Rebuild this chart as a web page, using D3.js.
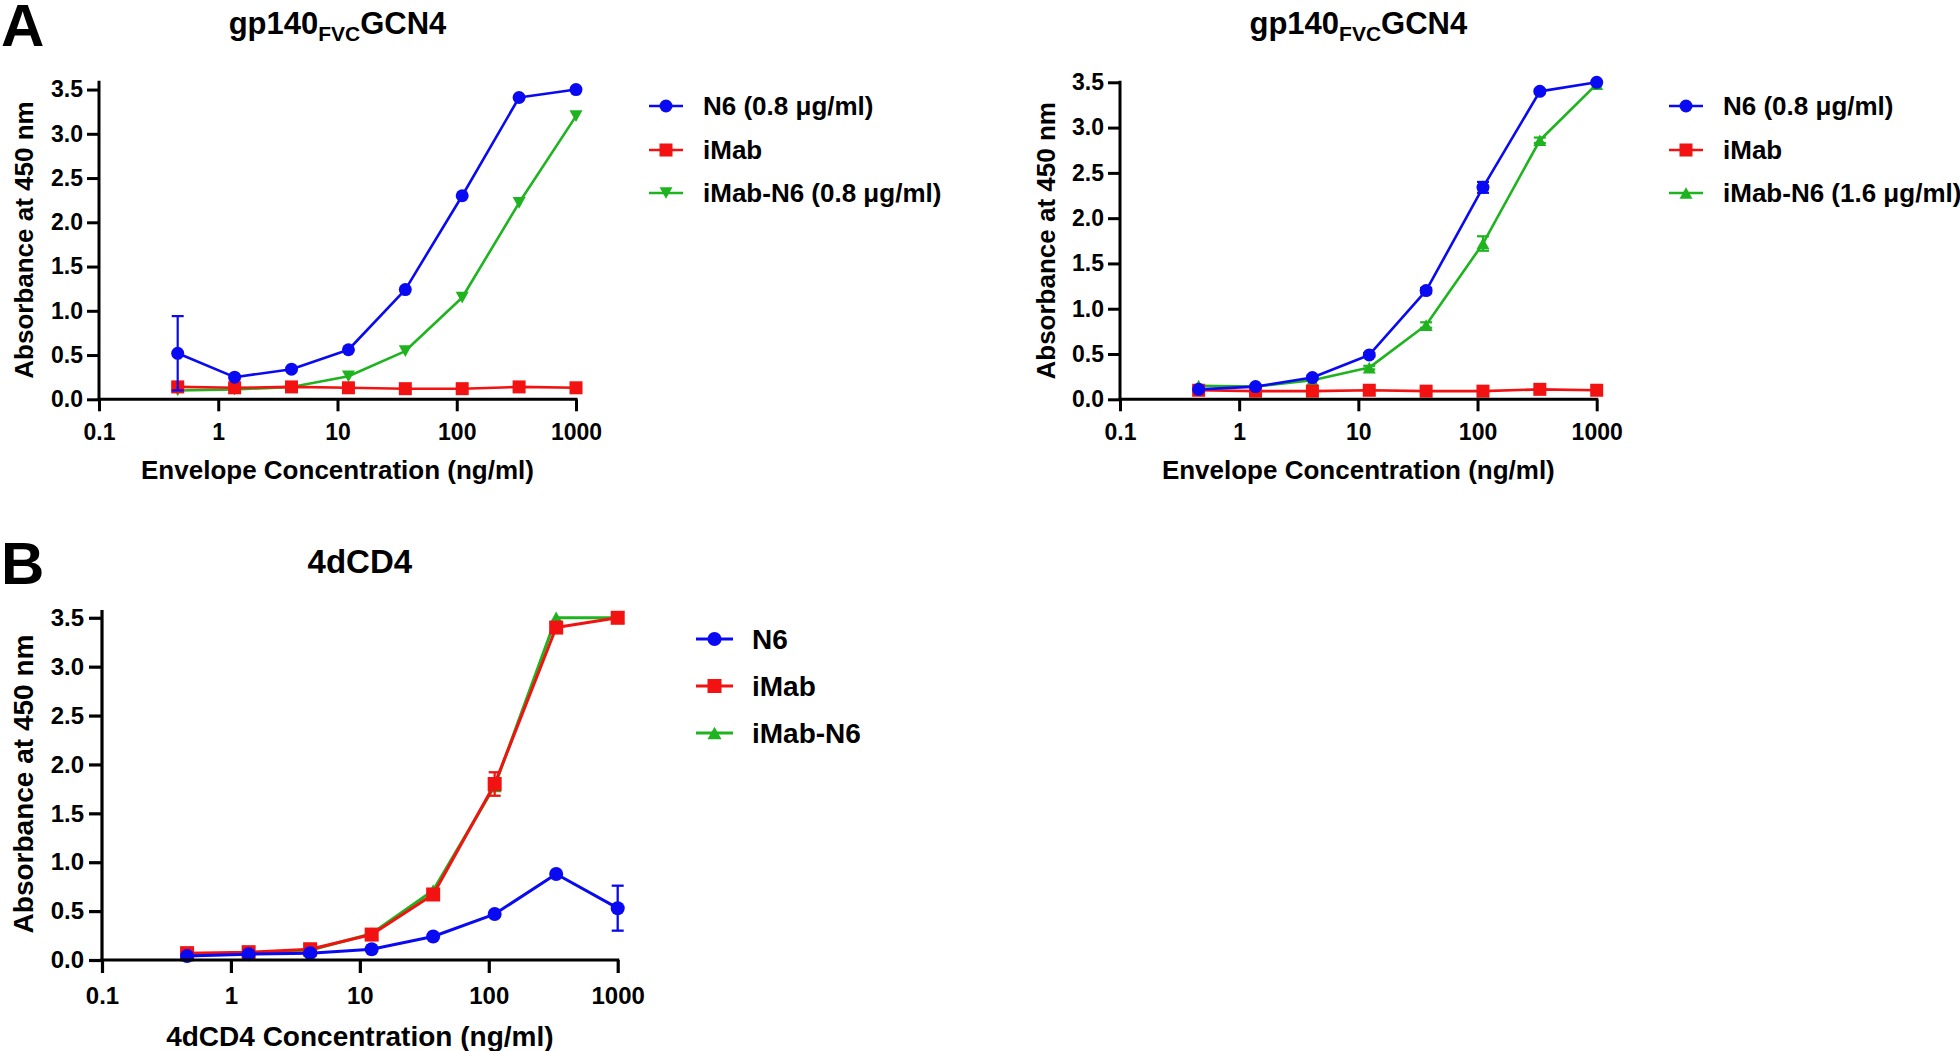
<!DOCTYPE html>
<html>
<head>
<meta charset="utf-8">
<script src="https://cdn.jsdelivr.net/npm/d3@7"></script>
<style>
  html, body { margin: 0; padding: 0; background: #ffffff; }
  svg { display: block; }
  text { font-family: "Liberation Sans", Arial, sans-serif; font-weight: bold; fill: #000; }
</style>
</head>
<body>
<svg id="chart" width="1960" height="1051"></svg>
<script>
// ---------------- DATA ----------------
const concentrations = [0.457, 1.372, 4.115, 12.35, 37.04, 111.1, 333.3, 1000];
const xTickValues = [0.1, 1, 10, 100, 1000];
const xTickLabels = ["0.1", "1", "10", "100", "1000"];
const yTickValues = [0, 0.5, 1.0, 1.5, 2.0, 2.5, 3.0, 3.5];
const yTickLabels = ["0.0", "0.5", "1.0", "1.5", "2.0", "2.5", "3.0", "3.5"];

// Panel A (left): gp140FVC GCN4, iMab-N6 0.8 ug/ml
const a1N6 = [0.52, 0.25, 0.34, 0.56, 1.24, 2.30, 3.41, 3.50];
const a1N6Err = [0.42, 0, 0, 0, 0, 0, 0, 0];
const a1iMab = [0.14, 0.13, 0.14, 0.13, 0.12, 0.12, 0.14, 0.13];
const a1iMabErr = [0, 0, 0, 0, 0, 0, 0, 0];
const a1iMabN6 = [0.10, 0.11, 0.14, 0.26, 0.545, 1.15, 2.22, 3.20];
const a1iMabN6Err = [0, 0, 0, 0, 0, 0, 0, 0];
const a1Labels = ["N6 (0.8 \u03bcg/ml)", "iMab", "iMab-N6 (0.8 \u03bcg/ml)"];

// Panel A (right): gp140FVC GCN4, iMab-N6 1.6 ug/ml
const a2N6 = [0.11, 0.14, 0.24, 0.49, 1.20, 2.34, 3.40, 3.50];
const a2N6Err = [0, 0, 0.02, 0.02, 0.03, 0.06, 0.02, 0];
const a2iMab = [0.10, 0.09, 0.09, 0.10, 0.09, 0.09, 0.11, 0.10];
const a2iMabErr = [0, 0, 0, 0, 0, 0, 0, 0];
const a2iMabN6 = [0.15, 0.14, 0.21, 0.35, 0.82, 1.72, 2.86, 3.48];
const a2iMabN6Err = [0, 0, 0, 0.02, 0.03, 0.08, 0.03, 0];
const a2Labels = ["N6 (0.8 \u03bcg/ml)", "iMab", "iMab-N6 (1.6 \u03bcg/ml)"];

// Panel B: 4dCD4
const bN6 = [0.04, 0.06, 0.07, 0.11, 0.24, 0.47, 0.88, 0.53];
const bN6Err = [0, 0, 0, 0, 0, 0, 0, 0.23];
const biMab = [0.07, 0.08, 0.11, 0.26, 0.67, 1.80, 3.40, 3.50];
const biMabErr = [0, 0, 0, 0, 0, 0.12, 0, 0];
const biMabN6 = [0.05, 0.06, 0.10, 0.27, 0.71, 1.78, 3.50, 3.50];
const biMabN6Err = [0, 0, 0, 0, 0, 0, 0, 0];
const bLabels = ["N6", "iMab", "iMab-N6"];

// ---------------- STYLE ----------------
const BLUE = "#0a0af2", RED = "#f21212", GREEN = "#1fb41f";

const svg = d3.select("#chart");
svg.append("rect").attr("width", 1960).attr("height", 1051).attr("fill", "#fff");

function marker(g, shape, cx, cy, s, color) {
  if (shape === "circle") {
    g.append("circle").attr("cx", cx).attr("cy", cy).attr("r", s / 2).attr("fill", color);
  } else if (shape === "square") {
    g.append("rect").attr("x", cx - s / 2).attr("y", cy - s / 2).attr("width", s).attr("height", s).attr("fill", color);
  } else if (shape === "triDown") {
    const h = s * 0.9;
    g.append("path").attr("d", `M${cx - s / 2},${cy - h / 2}L${cx + s / 2},${cy - h / 2}L${cx},${cy + h / 2}Z`).attr("fill", color);
  } else if (shape === "triUp") {
    const h = s * 0.9;
    g.append("path").attr("d", `M${cx - s / 2},${cy + h / 2}L${cx + s / 2},${cy + h / 2}L${cx},${cy - h / 2}Z`).attr("fill", color);
  }
}

function drawPanel(cfg) {
  const g = svg.append("g");
  const x = d3.scaleLog().domain([0.1, 1000]).range([cfg.left, cfg.right]);
  const y = d3.scaleLinear().domain([0, cfg.ymax]).range([cfg.bottom, cfg.top]);

  // series (drawn back to front)
  cfg.series.forEach(s => {
    const sg = g.append("g");
    const line = d3.line().x((d, i) => x(concentrations[i])).y(d => y(d));
    sg.append("path").datum(s.values).attr("d", line)
      .attr("fill", "none").attr("stroke", s.color).attr("stroke-width", cfg.lw).attr("stroke-linejoin", "round");
    s.values.forEach((v, i) => {
      const e = s.err[i];
      if (e > 0) {
        const cx = x(concentrations[i]);
        const y1 = y(v + e), y2 = y(v - e);
        sg.append("line").attr("x1", cx).attr("x2", cx).attr("y1", y1).attr("y2", y2)
          .attr("stroke", s.color).attr("stroke-width", cfg.ew);
        [y1, y2].forEach(yy => sg.append("line").attr("x1", cx - cfg.cap / 2).attr("x2", cx + cfg.cap / 2)
          .attr("y1", yy).attr("y2", yy).attr("stroke", s.color).attr("stroke-width", cfg.ew));
      }
    });
    s.values.forEach((v, i) => marker(sg, s.shape, x(concentrations[i]), y(v), cfg.ms, s.color));
  });

  // axes
  const xAxis = d3.axisBottom(x).tickValues(xTickValues)
    .tickFormat((d, i) => xTickLabels[i]).tickSizeOuter(0).tickSize(cfg.tick).tickPadding(cfg.xpad);
  const gx = g.append("g").attr("transform", `translate(0,${cfg.bottom})`).call(xAxis);
  const yAxis = d3.axisLeft(y).tickValues(yTickValues)
    .tickFormat((d, i) => yTickLabels[i]).tickSizeOuter(0).tickSize(cfg.tick).tickPadding(cfg.ypad);
  const gy = g.append("g").attr("transform", `translate(${cfg.left},0)`).call(yAxis);
  [gx, gy].forEach(a => {
    a.select(".domain").attr("stroke", "#000").attr("stroke-width", cfg.aw);
    a.selectAll(".tick line").attr("stroke", "#000").attr("stroke-width", cfg.aw);
    a.selectAll(".tick text").style("font-size", cfg.tickFont + "px").style("font-family", '"Liberation Sans", Arial, sans-serif').style("font-weight", "bold").attr("fill", "#000");
  });
  gy.select(".domain").attr("d", `M0,${cfg.bottom + cfg.aw / 2}V${cfg.axisTop}`);
  gx.select(".domain").attr("d", `M${cfg.left - cfg.aw / 2},0H${cfg.right + cfg.aw / 2}`);

  // axis titles
  g.append("text").attr("x", (cfg.left + cfg.right) / 2).attr("y", cfg.xTitleY)
    .attr("text-anchor", "middle").style("font-size", cfg.titleFont + "px").text(cfg.xTitle);
  g.append("text").attr("transform", `translate(${cfg.yTitleX},${(cfg.top + cfg.bottom) / 2}) rotate(-90)`)
    .attr("text-anchor", "middle").style("font-size", cfg.titleFont + "px").text("Absorbance at 450 nm");

  // chart title
  const t = g.append("text").attr("x", (cfg.left + cfg.right) / 2).attr("y", cfg.headY)
    .attr("text-anchor", "middle").style("font-size", cfg.headFont + "px");
  cfg.head.forEach(p => {
    const ts = t.append("tspan").text(p.text);
    if (p.sub) ts.style("font-size", cfg.subFont + "px").attr("dy", cfg.subShift);
    else if (p.after) ts.attr("dy", -cfg.subShift);
  });

  // legend
  const lg = g.append("g");
  cfg.series.slice().sort((a, b) => a.order - b.order).forEach((s, k) => {
    const yy = cfg.legY[k];
    lg.append("line").attr("x1", cfg.legX1).attr("x2", cfg.legX2).attr("y1", yy).attr("y2", yy)
      .attr("stroke", s.color).attr("stroke-width", cfg.lw);
    marker(lg, s.shape, (cfg.legX1 + cfg.legX2) / 2, yy, cfg.ms, s.color);
    lg.append("text").attr("x", cfg.legText).attr("y", yy).attr("dy", "0.36em")
      .style("font-size", cfg.legFont + "px").text(s.label);
  });

  // panel letter
  if (cfg.letter) {
    g.append("text").attr("x", cfg.letter.x).attr("y", cfg.letter.y)
      .style("font-size", cfg.letter.size + "px").text(cfg.letter.text);
  }
}

const headGp = [{ text: "gp140" }, { text: "FVC", sub: true }, { text: "GCN4", after: true }];

drawPanel({
  left: 99, right: 576, top: 80.7, bottom: 399.3, axisTop: 80.7, ymax: 3.6,
  lw: 2.6, ew: 2.2, cap: 12, ms: 13, aw: 3, tick: 12, xpad: 12, ypad: 4, tickFont: 23,
  titleFont: 26, xTitle: "Envelope Concentration (ng/ml)", xTitleY: 479, yTitleX: 33,
  head: headGp, headY: 34, headFont: 31, subFont: 21, subShift: 7,
  legX1: 649, legX2: 683, legText: 703, legY: [106, 150, 193], legFont: 26,
  letter: { text: "A", x: 1, y: 46, size: 60 },
  series: [
    { values: a1iMabN6, err: a1iMabN6Err, color: GREEN, shape: "triDown", label: a1Labels[2], order: 2 },
    { values: a1iMab, err: a1iMabErr, color: RED, shape: "square", label: a1Labels[1], order: 1 },
    { values: a1N6, err: a1N6Err, color: BLUE, shape: "circle", label: a1Labels[0], order: 0 }
  ]
});

drawPanel({
  left: 1120, right: 1596.7, top: 82.3, bottom: 399.3, axisTop: 80.7, ymax: 3.5,
  lw: 2.6, ew: 2.2, cap: 12, ms: 13, aw: 3, tick: 12, xpad: 12, ypad: 4, tickFont: 23,
  titleFont: 26, xTitle: "Envelope Concentration (ng/ml)", xTitleY: 479, yTitleX: 1055,
  head: headGp, headY: 34, headFont: 31, subFont: 21, subShift: 7,
  legX1: 1669, legX2: 1703, legText: 1723, legY: [106, 150, 193], legFont: 26,
  letter: null,
  series: [
    { values: a2iMabN6, err: a2iMabN6Err, color: GREEN, shape: "triUp", label: a2Labels[2], order: 2 },
    { values: a2iMab, err: a2iMabErr, color: RED, shape: "square", label: a2Labels[1], order: 1 },
    { values: a2N6, err: a2N6Err, color: BLUE, shape: "circle", label: a2Labels[0], order: 0 }
  ]
});

drawPanel({
  left: 102, right: 617.7, top: 608, bottom: 960, axisTop: 610, ymax: 3.6,
  lw: 3, ew: 2.3, cap: 12, ms: 14, aw: 3.2, tick: 13, xpad: 14, ypad: 5, tickFont: 24,
  titleFont: 28, xTitle: "4dCD4 Concentration (ng/ml)", xTitleY: 1046, yTitleX: 33,
  head: [{ text: "4dCD4" }], headY: 573, headFont: 33, subFont: 20, subShift: 7,
  legX1: 696, legX2: 733, legText: 752, legY: [639, 686, 733], legFont: 28,
  letter: { text: "B", x: 1, y: 584, size: 60 },
  series: [
    { values: biMabN6, err: biMabN6Err, color: GREEN, shape: "triUp", label: bLabels[2], order: 2 },
    { values: biMab, err: biMabErr, color: RED, shape: "square", label: bLabels[1], order: 1 },
    { values: bN6, err: bN6Err, color: BLUE, shape: "circle", label: bLabels[0], order: 0 }
  ]
});
</script>
</body>
</html>
